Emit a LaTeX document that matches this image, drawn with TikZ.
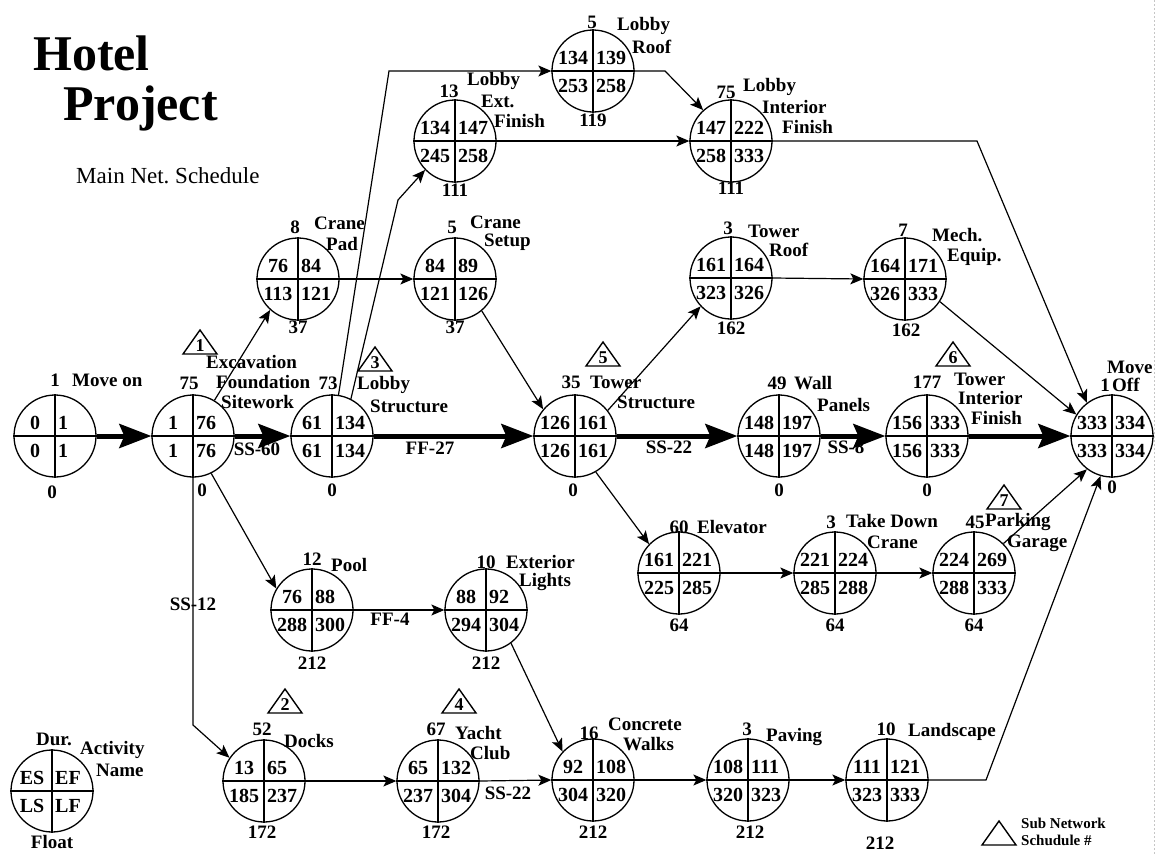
\documentclass[tikz,border=0pt]{standalone}
\usepackage{fontspec}
\setmainfont{Liberation Serif}
\usetikzlibrary{arrows.meta}
\frenchspacing
\newcommand{\act}[7]{%
  \node[actc] (#1) at (#2,#3) {};
  \draw[line width=1.3pt] (#1.north) -- (#1.south) (#1.west) -- (#1.east);
  \node[cell] (#1-es) at (#2-20,#3-13) {#4};
  \node[cell,anchor=west] (#1-ef) at (#2+3,#3-13) {#5};
  \node[cell] (#1-ls) at (#2-20,#3+15) {#6};
  \node[cell,anchor=west] (#1-lf) at (#2+3,#3+15) {#7};
}
\newcommand{\subnet}[4]{%
  \draw[line width=1.4pt] (#2-17,#3+24) -- (#2,#3) -- (#2+17,#3+24) -- cycle;
  \node[tri] (#1) at (#2,#3+15.5) {#4};
}
\begin{document}
\begin{tikzpicture}[x=1pt,y=-1pt,
  actc/.style={circle,draw,line width=1.3pt,minimum size=82pt,inner sep=0pt},
  cell/.style={font=\fontsize{20}{22}\selectfont\bfseries,inner sep=0pt},
  lbl/.style={font=\fontsize{19}{21}\selectfont\bfseries,inner sep=0pt,anchor=west},
  num/.style={font=\fontsize{19}{21}\selectfont\bfseries,inner sep=0pt},
  tri/.style={font=\fontsize{18}{20}\selectfont\bfseries,inner sep=0pt},
  thinarr/.style={line width=1.2pt,-{Stealth[length=13pt,width=11pt,inset=3pt]}},
  thickarr/.style={line width=5pt,-{Stealth[length=32pt,width=24pt,inset=5pt]}}
]
\useasboundingbox (0,0) rectangle (1157,855);
\fill[white] (0,0) rectangle (1157,855);
\draw[gray!45,dash pattern=on 2pt off 2pt,line width=1pt] (1154,0) -- (1154,855);

% titles
\node[font=\fontsize{50}{55}\selectfont\bfseries,inner sep=0pt,anchor=base west] (t1) at (33,70) {Hotel};
\node[font=\fontsize{50}{55}\selectfont\bfseries,inner sep=0pt,anchor=base west] (t2) at (63,120) {Project};
\node[font=\fontsize{23}{25}\selectfont,inner sep=0pt,anchor=base west] (t3) at (76,183) {Main Net. Schedule};

% activities
\act{moveon}{55}{436}{0}{1}{0}{1}
\act{exc}{193}{436}{1}{76}{1}{76}
\act{lstr}{332}{436}{61}{134}{61}{134}
\act{cpad}{298}{279}{76}{84}{113}{121}
\act{csetup}{455}{279}{84}{89}{121}{126}
\act{lext}{455}{141}{134}{147}{245}{258}
\act{lroof}{593}{71}{134}{139}{253}{258}
\act{lint}{731}{141}{147}{222}{258}{333}
\act{troof}{731}{278}{161}{164}{323}{326}
\act{mech}{905}{279}{164}{171}{326}{333}
\act{tstr}{575}{436}{126}{161}{126}{161}
\act{wall}{779}{436}{148}{197}{148}{197}
\act{tif}{927}{436}{156}{333}{156}{333}
\act{moff}{1112}{436}{333}{334}{333}{334}
\act{elev}{679}{573}{161}{221}{225}{285}
\act{tdc}{835}{573}{221}{224}{285}{288}
\act{park}{974}{573}{224}{269}{288}{333}
\act{pool}{312}{610}{76}{88}{288}{300}
\act{ext}{486}{610}{88}{92}{294}{304}
\act{docks}{264}{781}{13}{65}{185}{237}
\act{yacht}{438}{781}{65}{132}{237}{304}
\act{conc}{593}{780}{92}{108}{304}{320}
\act{paving}{748}{780}{108}{111}{320}{323}
\act{land}{887}{780}{111}{121}{323}{333}
\act{legend}{52}{791}{ES}{EF}{LS}{LF}

% durations
\node[num] (d-moveon) at (55,380) {1};
\node[num] (d-exc) at (189,383) {75};
\node[num] (d-lstr) at (328,383) {73};
\node[num] (d-cpad) at (295,227) {8};
\node[num] (d-csetup) at (452,227) {5};
\node[num] (d-lext) at (449,91) {13};
\node[num] (d-lroof) at (592,22) {5};
\node[num] (d-lint) at (726,92) {75};
\node[num] (d-troof) at (728,228) {3};
\node[num] (d-mech) at (903,230) {7};
\node[num] (d-tstr) at (571,382) {35};
\node[num] (d-wall) at (777,383) {49};
\node[num] (d-tif) at (927,382) {177};
\node[num] (d-moff) at (1105,385) {1};
\node[num] (d-elev) at (679,527) {60};
\node[num] (d-tdc) at (831,522) {3};
\node[num] (d-park) at (975,522) {45};
\node[num] (d-pool) at (312,559) {12};
\node[num] (d-ext) at (486,562) {10};
\node[num] (d-docks) at (262,729) {52};
\node[num] (d-yacht) at (436,729) {67};
\node[num] (d-conc) at (589,733) {16};
\node[num] (d-paving) at (747,729) {3};
\node[num] (d-land) at (886,729) {10};
\node[num] (d-legend) at (54,739) {Dur.};

% floats
\node[num] (f-moveon) at (52,492) {0};
\node[num] (f-exc) at (202,490) {0};
\node[num] (f-lstr) at (332,490) {0};
\node[num] (f-tstr) at (573,490) {0};
\node[num] (f-wall) at (779,490) {0};
\node[num] (f-tif) at (927,490) {0};
\node[num] (f-moff) at (1112,487) {0};
\node[num] (f-cpad) at (298,327) {37};
\node[num] (f-csetup) at (455,327) {37};
\node[num] (f-lext) at (455,190) {111};
\node[num] (f-lroof) at (593,120) {119};
\node[num] (f-lint) at (731,188) {111};
\node[num] (f-troof) at (731,328) {162};
\node[num] (f-mech) at (906,330) {162};
\node[num] (f-elev) at (679,625) {64};
\node[num] (f-tdc) at (835,625) {64};
\node[num] (f-park) at (974,625) {64};
\node[num] (f-pool) at (312,663) {212};
\node[num] (f-ext) at (486,663) {212};
\node[num] (f-docks) at (262,832) {172};
\node[num] (f-yacht) at (436,832) {172};
\node[num] (f-conc) at (593,832) {212};
\node[num] (f-paving) at (750,832) {212};
\node[num] (f-land) at (880,843) {212};
\node[num] (f-legend) at (52,842) {Float};

% names
\node[lbl] (n-moveon) at (72,380) {Move on};
\node[lbl] (n-exc1) at (206,362) {Excavation};
\node[lbl] (n-exc2) at (216,382) {Foundation};
\node[lbl] (n-exc3) at (221,402) {Sitework};
\node[lbl] (n-lstr1) at (357,385) {Lobby};
\node[lbl] (n-lstr2) at (370,406) {Structure};
\node[lbl] (n-cpad1) at (314,223) {Crane};
\node[lbl] (n-cpad2) at (326,244) {Pad};
\node[lbl] (n-lext1) at (467,81) {Lobby};
\node[lbl] (n-lext2) at (481,101) {Ext.};
\node[lbl] (n-lext3) at (494,121) {Finish};
\node[lbl] (n-cset1) at (470,222) {Crane};
\node[lbl] (n-cset2) at (484,242) {Setup};
\node[lbl] (n-lroof1) at (617,26) {Lobby};
\node[lbl] (n-lroof2) at (632,47) {Roof};
\node[lbl] (n-lint1) at (743,87) {Lobby};
\node[lbl] (n-lint2) at (762,107) {Interior};
\node[lbl] (n-lint3) at (782,127) {Finish};
\node[lbl] (n-troof1) at (748,231) {Tower};
\node[lbl] (n-troof2) at (769,250) {Roof};
\node[lbl] (n-mech1) at (932,235) {Mech.};
\node[lbl] (n-mech2) at (947,257) {Equip.};
\node[lbl] (n-tstr1) at (590,382) {Tower};
\node[lbl] (n-tstr2) at (617,402) {Structure};
\node[lbl] (n-wall1) at (794,383) {Wall};
\node[lbl] (n-wall2) at (817,405) {Panels};
\node[lbl] (n-tif1) at (954,379) {Tower};
\node[lbl] (n-tif2) at (958,398) {Interior};
\node[lbl] (n-tif3) at (971,418) {Finish};
\node[lbl] (n-moff1) at (1107,367) {Move};
\node[lbl] (n-moff2) at (1112,385) {Off};
\node[lbl] (n-elev) at (697,527) {Elevator};
\node[lbl] (n-tdc1) at (846,521) {Take Down};
\node[lbl] (n-tdc2) at (867,542) {Crane};
\node[lbl] (n-park1) at (985,522) {Parking};
\node[lbl] (n-park2) at (1007,543) {Garage};
\node[lbl] (n-pool) at (331,565) {Pool};
\node[lbl] (n-ext1) at (506,562) {Exterior};
\node[lbl] (n-ext2) at (519,582) {Lights};
\node[lbl] (n-docks) at (284,741) {Docks};
\node[lbl] (n-yacht1) at (455,733) {Yacht};
\node[lbl] (n-yacht2) at (470,753) {Club};
\node[lbl] (n-conc1) at (608,724) {Concrete};
\node[lbl] (n-conc2) at (623,744) {Walks};
\node[lbl] (n-paving) at (766,737) {Paving};
\node[lbl] (n-land) at (908,732) {Landscape};
\node[lbl] (n-leg1) at (80,750) {Activity};
\node[lbl] (n-leg2) at (96,770) {Name};

% sub network triangles
\subnet{s1}{200}{330}{1}
\subnet{s3}{375}{347}{3}
\subnet{s5}{603}{342}{5}
\subnet{s6}{953}{342}{6}
\subnet{s7}{1004}{485}{7}
\subnet{s2}{285}{689}{2}
\subnet{s4}{459}{689}{4}
\subnet{s0}{999}{821}{}
\node[font=\fontsize{15}{17}\selectfont\bfseries,inner sep=0pt,anchor=west] (sn1) at (1021,823) {Sub Network};
\node[font=\fontsize{15}{17}\selectfont\bfseries,inner sep=0pt,anchor=west] (sn2) at (1021,840) {Schudule \#};

% critical path
\draw[thickarr] (moveon.east) -- (exc.west);
\draw[thickarr] (exc.east) -- (lstr.west);
\draw[thickarr] (lstr.east) -- (tstr.west);
\draw[thickarr] (tstr.east) -- (wall.west);
\draw[thickarr] (wall.east) -- (tif.west);
\draw[thickarr] (tif.east) -- (moff.west);
\node[num] (e1) at (257,449) {SS-60};
\node[num] (e2) at (430,448) {FF-27};
\node[num] (e3) at (669,447) {SS-22};
\node[num] (e4) at (846,447) {SS-8};

% other links
\draw[thinarr] (exc.59) -- (cpad.228);
\draw[thinarr] (cpad.east) -- (csetup.west);
\draw[thinarr] (lstr.81) -- (389,71) -- (lroof.west);
\draw[thinarr] (lstr.63) -- (398,200) -- (lext.224);
\draw[thinarr] (lext.east) -- (lint.west);
\draw[thinarr] (lroof.east) -- (665,71) -- (lint.132);
\draw[thinarr] (lint.east) -- (977,141) -- (moff.127);
\draw[thinarr] (csetup.-50) -- (tstr.140);
\draw[thinarr] (tstr.38) -- (troof.223);
\draw[thinarr] (troof.east) -- (mech.west);
\draw[thinarr] (mech.-33) -- (moff.149);
\draw[thinarr] (tstr.-60) -- (elev.136);
\draw[thinarr] (elev.east) -- (tdc.west);
\draw[thinarr] (tdc.east) -- (park.west);
\draw[thinarr] (park.45) -- (moff.233);
\draw[thinarr] (land.east) -- (986,780) -- (moff.254);
\draw[thinarr] (exc.-64) -- (pool.149);
\draw[thinarr] (pool.east) -- (ext.west);
\draw[thinarr] (ext.-53) -- (conc.137);
\draw[thinarr] (exc.south) -- (193,725) -- (docks.146);
\draw[thinarr] (docks.east) -- (yacht.west);
\draw[thinarr] (yacht.east) -- (conc.west);
\draw[thinarr] (conc.east) -- (paving.west);
\draw[thinarr] (paving.east) -- (land.west);
\node[num] (e5) at (193,604) {SS-12};
\node[num] (e6) at (390,619) {FF-4};
\node[num] (e7) at (508,793) {SS-22};
\end{tikzpicture}
\end{document}
